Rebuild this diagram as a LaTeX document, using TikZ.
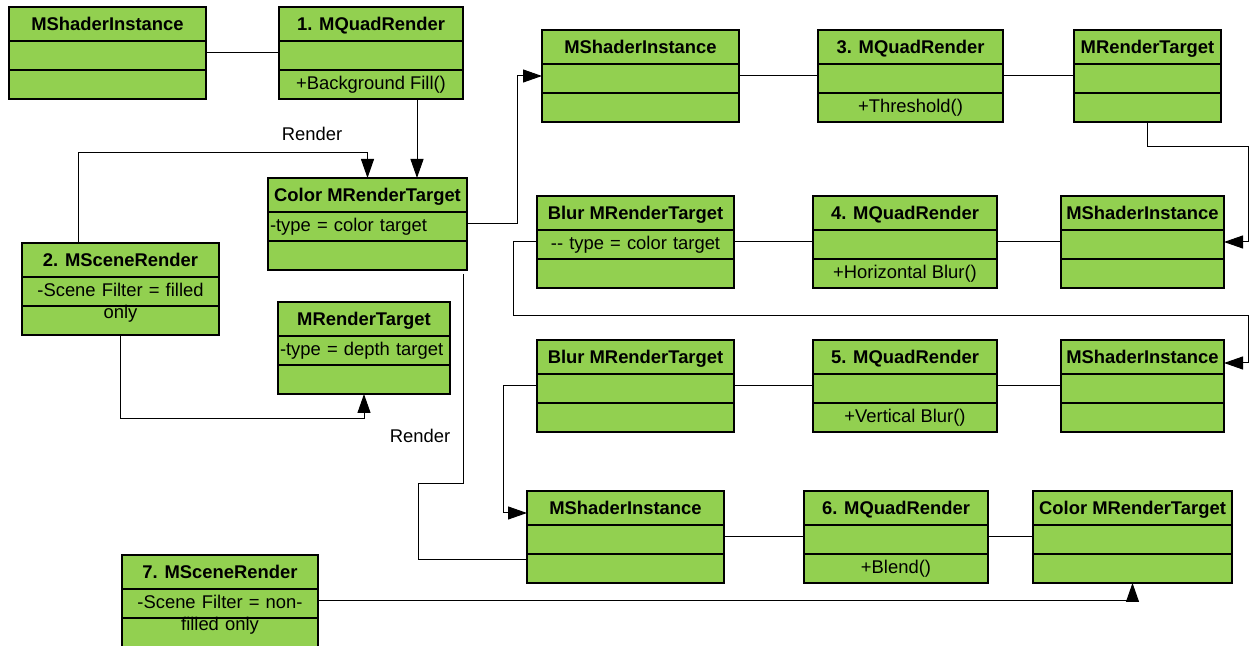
\documentclass[tikz,border=0pt]{standalone}
\usepackage{fontspec}
\setmainfont{Liberation Sans}
\usetikzlibrary{arrows.meta}

\definecolor{umlgreen}{RGB}{146,208,80}

\tikzset{
  classbox/.style={draw, fill=umlgreen, line width=0.75pt, anchor=north west,
    minimum height=46pt, inner sep=0pt, outer sep=0pt},
  classrule/.style={line width=0.75pt},
  titletext/.style={anchor=base, inner sep=0pt, font=\fontsize{9.2}{11}\selectfont\bfseries},
  membertext/.style={anchor=north, inner sep=0pt, font=\fontsize{9.2}{11}\selectfont},
  link/.style={line width=0.5pt},
  arr/.style={link, -{Triangle[length=9.5pt,width=6.5pt]}},
  lbl/.style={inner sep=0pt, font=\fontsize{9.2}{11}\selectfont},
}

% name, x, y, width, title, attribute, operation, attribute alignment
\newcommand{\umlclass}[8]{%
  \pgfmathsetmacro\colw{#4*0.5-2}
  \node[classbox, minimum width=#4*0.5pt] (#1) at (#2,#3) {};
  \draw[classrule] ([yshift=-17pt]#1.north west) -- ([yshift=-17pt]#1.north east);
  \draw[classrule] ([yshift=-31.5pt]#1.north west) -- ([yshift=-31.5pt]#1.north east);
  \node[titletext] (#1-t) at ([yshift=-11.8pt]#1.north) {#5};
  \node[membertext, text width=\colw pt, align=#8] (#1-a) at ([yshift=-19.8pt]#1.north) {#6};
  \node[membertext] (#1-o) at ([yshift=-34.3pt]#1.north) {#7};
}

\begin{document}
\begin{tikzpicture}[x=0.5pt, y=-0.5pt]
  \useasboundingbox (0,0) rectangle (1249,646);

  % scene part
  \umlclass{shA}{9}{7}{197}{MShaderInstance}{}{}{center}
  \umlclass{qr1}{279}{7}{184}{1. MQuadRender}{}{+Background Fill()}{center}
  \umlclass{ctA}{268}{178}{199}{Color MRenderTarget}{-type = color target}{}{left}
  \umlclass{sr2}{22}{243}{197}{2. MSceneRender}{-Scene Filter = filled\\only}{}{center}
  \umlclass{dtA}{278}{302}{172}{MRenderTarget}{-type = depth target}{}{left}
  \umlclass{sr7}{122}{555}{196}{7. MSceneRender}{-Scene Filter = non-\\filled only}{}{center}

  % bloom chain
  \umlclass{shB}{542}{30}{197}{MShaderInstance}{}{}{center}
  \umlclass{qr3}{818}{30}{185}{3. MQuadRender}{}{+Threshold()}{center}
  \umlclass{rt3}{1074}{30}{147}{MRenderTarget}{}{}{center}
  \umlclass{blH}{537}{196}{197}{Blur MRenderTarget}{-{}- type = color target}{}{center}
  \umlclass{qr4}{813}{196}{184}{4. MQuadRender}{}{+Horizontal Blur()}{center}
  \umlclass{shC}{1061}{196}{163}{MShaderInstance}{}{}{center}
  \umlclass{blV}{537}{340}{197}{Blur MRenderTarget}{}{}{center}
  \umlclass{qr5}{813}{340}{184}{5. MQuadRender}{}{+Vertical Blur()}{center}
  \umlclass{shD}{1061}{340}{163}{MShaderInstance}{}{}{center}
  \umlclass{shE}{527}{491}{197}{MShaderInstance}{}{}{center}
  \umlclass{qr6}{804}{491}{184}{6. MQuadRender}{}{+Blend()}{center}
  \umlclass{ctB}{1033}{491}{199}{Color MRenderTarget}{}{}{center}

  \node[lbl] (render1) at (312,134) {Render};
  \node[lbl] (render2) at (420,436) {Render};

  % plain links
  \draw[link] (shA) -- (qr1);
  \draw[link] (shB) -- (qr3);
  \draw[link] (qr3) -- (rt3);
  \draw[link] (blH) -- (qr4);
  \draw[link] (qr4) -- (shC);
  \draw[link] (blV) -- (qr5);
  \draw[link] (qr5) -- (shD);
  \draw[link] (shE) -- (qr6);
  \draw[link] (qr6) -- (ctB);

  % arrows
  \draw[arr] ([xshift=23pt]qr1.south) coordinate (q1) -- (q1 |- ctA.north);
  \draw[arr] ([xshift=-21.25pt]sr2.north) |- ([yshift=12.5pt]ctA.north) -- (ctA.north);
  \draw[arr] (sr2.south) |- ([yshift=-12.5pt]dtA.south) -- (dtA.south);
  \draw[arr] (ctA.east) -- ++(50,0) |- (shB.west);
  \draw[link] ([xshift=-2pt,yshift=-2pt]ctA.south east) -- ++(0,210) -- ++(-45,0)
    |- ([yshift=-11.5pt]shE.west);
  \draw[arr] (rt3.south) -- ++(0,25) -| ([xshift=12pt]shC.east) -- (shC.east);
  \draw[arr] (blH.west) -- ++(-24,0) -- ++(0,74)
    -| ([xshift=12pt,yshift=11.5pt]shD.east) -- ([yshift=11.5pt]shD.east);
  \draw[arr] (blV.west) -- ++(-34,0) |- ([yshift=12pt]shE.west);
  \draw[arr] (sr7.east) -| (ctB.south);
\end{tikzpicture}
\end{document}
